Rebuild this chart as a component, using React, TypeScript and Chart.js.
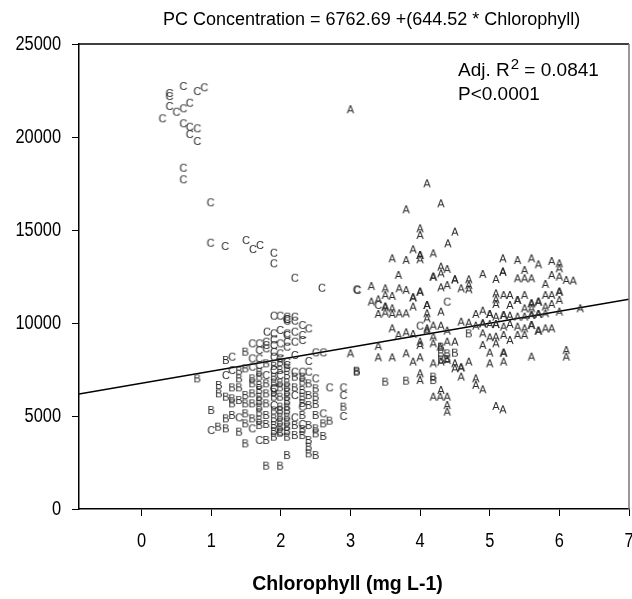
import React, { useEffect, useRef } from "react";
import { Chart, registerables } from "chart.js";
Chart.register(...registerables);

const titleText = "PC Concentration = 6762.69 +(644.52 * Chlorophyll)";
const xAxisTitle = "Chlorophyll (mg L-1)";
const xTicks = [0, 1, 2, 3, 4, 5, 6, 7];
const yTicks = [0, 5000, 10000, 15000, 20000, 25000];
const xRange = [-0.9, 7];
const yRange = [0, 25000];
const intercept = 6762.69;
const slope = 644.52;
const fitX = [-0.9, 7];

const groupC: [number, number][] = [
  [0.40, 22366], [0.40, 22204], [0.60, 22742], [0.80, 22473], [0.90, 22672], [0.40, 21667],
  [0.50, 21360], [0.60, 21543], [0.69, 21844], [0.30, 21005], [0.60, 20737], [0.69, 20554],
  [0.80, 20468], [0.69, 20161], [0.80, 19785], [0.60, 18349], [0.60, 17726], [0.99, 16489],
  [0.99, 14317], [1.20, 14140], [1.50, 14462], [1.60, 13978], [1.70, 14194], [1.90, 13780],
  [1.90, 13210], [2.20, 12435], [2.59, 11898], [3.09, 11812],
  [1.90, 10394], [1.99, 10394], [2.09, 10341], [2.09, 10215], [2.09, 10215], [2.09, 10125],
  [2.20, 10341], [2.20, 10125], [2.31, 9892], [2.40, 9713], [1.80, 9534], [1.90, 9444],
  [1.99, 9624], [2.09, 9444], [2.09, 9355], [2.20, 9534], [2.31, 9355], [1.90, 9122],
  [1.59, 8907], [1.69, 8907], [1.79, 8996], [1.79, 8817], [1.90, 8817], [1.99, 8907],
  [2.09, 8996], [2.20, 8996], [2.31, 9086], [1.69, 8548], [1.79, 8638], [1.90, 8459],
  [1.99, 8369], [2.09, 8728], [2.20, 8280], [2.50, 8423], [2.61, 8423], [1.30, 8190],
  [1.59, 8100], [1.69, 8100], [1.90, 8190], [1.99, 8100], [2.09, 7921], [2.40, 7957],
  [1.30, 7473], [1.59, 7652], [1.69, 7742], [1.90, 7473], [2.09, 7742], [2.31, 7384],
  [2.40, 7384], [1.21, 7204], [1.79, 7204], [1.99, 7204], [2.20, 7384], [2.50, 7025],
  [1.90, 6487], [1.90, 6487], [2.70, 6541], [2.90, 6541], [2.20, 6129], [2.90, 6129],
  [1.90, 5591], [2.31, 5502], [1.40, 4928], [2.20, 4928], [2.61, 5143], [2.90, 5000],
  [1.00, 4247], [1.59, 4337], [2.31, 4570], [1.69, 3710], [1.99, 4158],
  [3.10, 11774], [3.40, 10968], [4.39, 11147], [4.00, 9857],
];

const groupB: [number, number][] = [
  [1.49, 8459], [1.21, 8011], [1.49, 7563], [1.40, 7437], [1.79, 7832], [1.99, 7473],
  [2.20, 7115], [3.09, 7384], [3.09, 7437], [0.80, 7025], [1.40, 7025], [1.59, 7025],
  [1.69, 7115], [1.90, 7115], [2.09, 7204], [2.31, 7115], [1.11, 6667], [1.30, 6541],
  [1.40, 6541], [1.59, 6756], [1.69, 6667], [1.79, 6756], [1.99, 6541], [2.09, 6541],
  [2.20, 6541], [2.31, 6846], [2.40, 6756], [2.50, 6487], [1.11, 6219], [1.21, 6039],
  [1.30, 5950], [1.40, 5860], [1.49, 6129], [1.59, 6219], [1.69, 6039], [1.79, 6219],
  [1.90, 6039], [1.99, 6039], [2.09, 6039], [2.31, 6039], [2.40, 6129], [2.50, 6039],
  [1.00, 5323], [1.30, 5681], [1.49, 5681], [1.59, 5681], [1.69, 5502], [1.79, 5681],
  [1.99, 5502], [2.09, 5502], [2.40, 5591], [2.50, 5645], [2.90, 5502], [1.21, 4875],
  [1.30, 5054], [1.49, 5143], [1.59, 4875], [1.79, 5054], [1.90, 4875], [1.99, 4964],
  [2.09, 4964], [2.31, 5054], [2.50, 5054], [1.10, 4427], [1.21, 4337], [1.40, 4158],
  [1.49, 4606], [1.69, 4516], [1.79, 4570], [1.90, 4516], [1.99, 4695], [2.09, 4427],
  [2.20, 4516], [2.40, 4516], [2.61, 4606], [2.70, 4749], [2.50, 4337], [1.49, 3530],
  [1.79, 3710], [1.90, 3889], [2.09, 3889], [2.20, 3978], [2.31, 3978], [2.40, 3710],
  [2.50, 4068], [2.61, 3925], [2.40, 3351], [2.40, 2993], [2.50, 2903], [2.09, 2903],
  [1.79, 2330], [1.99, 2330],
  [1.69, 7380], [1.69, 6400], [1.69, 5800], [1.69, 5200], [1.69, 4800], [1.90, 7700],
  [1.90, 6800], [1.90, 6300], [1.90, 5300], [1.90, 4200], [2.09, 7600], [2.09, 6800],
  [2.09, 6300], [2.09, 5800], [2.09, 5300], [2.09, 4700], [2.09, 4200], [1.99, 7900],
  [1.99, 6800], [1.99, 5300], [1.99, 4400], [1.99, 4100], [2.31, 6400], [2.31, 5700],
  [2.31, 4300],
  [3.50, 6846], [3.80, 6900], [4.19, 6935], [4.19, 7115], [4.30, 8728], [4.30, 8369],
  [4.30, 8047], [4.39, 8369], [4.39, 8065], [4.50, 8405], [4.70, 9444],
];

const groupA: [number, number][] = [
  [3.00, 21489], [4.10, 17509], [3.80, 16111], [4.30, 16434], [4.00, 15090], [4.00, 14731],
  [4.50, 14910], [4.40, 14283], [3.90, 13961], [4.00, 13656], [4.00, 13656], [4.00, 13423],
  [4.19, 13746], [3.60, 13477], [3.80, 13387], [4.30, 13029], [4.39, 12903], [4.19, 12491],
  [4.19, 12491], [4.30, 12670], [3.69, 12581], [4.50, 12348], [4.50, 12348], [4.39, 12043],
  [4.30, 11918], [4.59, 11864], [4.70, 12348], [4.70, 12043], [4.70, 11810], [4.90, 12634],
  [5.09, 12366], [5.19, 13477], [5.19, 12760], [5.19, 12760], [5.40, 13387], [5.60, 13477],
  [5.70, 13154], [5.89, 13333], [6.00, 13208], [6.00, 12939], [5.50, 12849], [5.40, 12401],
  [5.50, 12401], [5.60, 12401], [5.89, 12581], [6.00, 12491], [6.10, 12312], [6.20, 12276],
  [5.80, 12097], [3.30, 11989], [3.50, 11864], [3.60, 11452], [3.70, 11864], [3.80, 11774],
  [3.90, 11380], [3.90, 11380], [4.00, 11685], [4.00, 11685], [3.50, 11505], [3.40, 11272],
  [3.30, 11147], [3.50, 10878], [3.50, 10878], [3.60, 10789], [3.40, 10484], [3.50, 10556],
  [3.60, 10484], [3.70, 10520], [3.80, 10520], [3.90, 10878], [4.10, 10968], [4.10, 10968],
  [4.10, 10520], [4.10, 10251], [4.30, 10609], [5.09, 11595], [5.09, 11272], [5.09, 11022],
  [5.20, 11505], [5.29, 11505], [5.40, 11237], [5.40, 11237], [5.50, 11505], [5.60, 11057],
  [5.60, 11057], [5.70, 11147], [5.70, 11147], [5.80, 11505], [5.89, 11505], [6.00, 11685],
  [6.00, 11685], [6.00, 11237], [5.29, 10968], [5.50, 10789], [5.60, 10789], [5.80, 10878],
  [5.89, 11022], [6.00, 10609], [6.30, 10789], [4.80, 10484], [4.90, 10663], [5.00, 10484],
  [5.00, 10484], [5.09, 10341], [5.20, 10430], [5.20, 10430], [5.29, 10394], [5.40, 10341],
  [5.50, 10341], [5.60, 10430], [5.60, 10430], [5.70, 10484], [5.70, 10484], [5.80, 10520],
  [3.60, 9713], [4.10, 9713], [4.19, 9857], [4.30, 9857], [4.39, 9588], [4.59, 10072],
  [4.70, 10018], [4.80, 9857], [4.90, 9982], [4.90, 9982], [5.00, 9946], [5.09, 9946],
  [5.09, 9946], [5.20, 9803], [5.29, 9946], [5.40, 9803], [5.50, 9713], [5.60, 9892],
  [5.60, 9892], [5.70, 9588], [5.70, 9588], [5.80, 9713], [5.89, 9713], [3.69, 9355],
  [3.80, 9498], [3.90, 9409], [4.10, 9588], [4.19, 9265], [4.39, 8996], [4.50, 8996],
  [4.90, 9444], [5.00, 9229], [5.09, 9265], [5.20, 9355], [5.29, 9086], [5.40, 9355],
  [5.50, 9355], [3.40, 8763], [4.00, 8996], [4.00, 8817], [4.19, 8907], [4.29, 8728],
  [4.90, 8817], [5.09, 8907], [3.00, 8369], [3.40, 8154], [3.60, 8154], [3.80, 8369],
  [3.90, 7921], [4.00, 8154], [4.19, 7832], [4.30, 7921], [4.39, 8011], [4.50, 7832],
  [4.70, 7921], [5.00, 8405], [5.00, 7832], [5.20, 8405], [5.20, 8405], [5.20, 7921],
  [5.60, 8190], [6.10, 8548], [6.10, 8190], [4.50, 7563], [4.59, 7617], [4.59, 7617],
  [4.59, 7115], [4.80, 7025], [4.80, 6667], [4.90, 6434], [4.00, 7294], [4.00, 6935],
  [4.19, 6039], [4.29, 6039], [4.39, 6039], [4.30, 6398], [4.39, 5591], [4.39, 5233],
  [5.09, 5538], [5.19, 5358],
];

const FONT = '"Liberation Sans", Arial, Helvetica, sans-serif';

function letterImage(ch: string) {
  const c = document.createElement("canvas");
  c.width = 12;
  c.height = 12;
  const g = c.getContext("2d")!;
  g.fillStyle = "#2a2a2a";
  g.font = `11px ${FONT}`;
  g.textAlign = "center";
  g.textBaseline = "middle";
  g.fillText(ch, 6, 6.5);
  return c;
}

const toPoints = (arr: [number, number][]) => arr.map(([x, y]) => ({ x, y }));

function narrowText(ctx: CanvasRenderingContext2D, text: string, x: number, y: number, align: CanvasTextAlign, baseline: CanvasTextBaseline) {
  ctx.save();
  ctx.translate(x, y);
  ctx.scale(0.82, 1);
  ctx.textAlign = align;
  ctx.textBaseline = baseline;
  ctx.fillText(text, 0, 0);
  ctx.restore();
}

const decorPlugin = {
  id: "decor",
  afterDraw(chart: any) {
    const ctx = chart.ctx as CanvasRenderingContext2D;
    const { left, right, top, bottom } = chart.chartArea;
    const xs = chart.scales.x;
    const ys = chart.scales.y;
    ctx.save();
    ctx.lineWidth = 1.5;
    ctx.strokeStyle = "#000";
    ctx.beginPath();
    ctx.moveTo(left, top);
    ctx.lineTo(right, top);
    ctx.stroke();
    ctx.strokeStyle = "#777";
    ctx.beginPath();
    ctx.moveTo(right, top);
    ctx.lineTo(right, bottom);
    ctx.stroke();

    ctx.fillStyle = "#000";
    ctx.font = `20px ${FONT}`;
    yTicks.forEach((v) => narrowText(ctx, String(v), left - 18, ys.getPixelForValue(v), "right", "middle"));
    xTicks.forEach((v) => narrowText(ctx, String(v), xs.getPixelForValue(v), bottom + 38, "center", "alphabetic"));

    ctx.textBaseline = "alphabetic";
    ctx.textAlign = "left";
    ctx.font = `18px ${FONT}`;
    ctx.fillText(titleText, 163, 25);

    const ax = 458;
    ctx.font = `19px ${FONT}`;
    ctx.fillText("Adj. R", ax, 76);
    const w = ctx.measureText("Adj. R").width;
    ctx.font = `15px ${FONT}`;
    ctx.fillText("2", ax + w + 1, 69);
    const w2 = ctx.measureText("2").width;
    ctx.font = `19px ${FONT}`;
    ctx.fillText(" = 0.0841", ax + w + w2 + 1, 76);
    ctx.fillText("P<0.0001", ax, 100);

    ctx.font = `bold 19.5px ${FONT}`;
    ctx.textAlign = "center";
    ctx.fillText(xAxisTitle, (left + right) / 2 - 6.5, 590);
    ctx.restore();
  },
};

export default function App() {
  const ref = useRef<HTMLCanvasElement>(null);
  useEffect(() => {
    if (!ref.current) return;
    Chart.defaults.font.family = FONT;
    const chart = new Chart(ref.current, {
      type: "scatter",
      data: {
        datasets: [
          { label: "A", data: toPoints(groupA), pointStyle: letterImage("A") as any, pointRadius: 6 },
          { label: "B", data: toPoints(groupB), pointStyle: letterImage("B") as any, pointRadius: 6 },
          { label: "C", data: toPoints(groupC), pointStyle: letterImage("C") as any, pointRadius: 6 },
          {
            type: "line" as any,
            label: "fit",
            data: fitX.map((x) => ({ x, y: intercept + slope * x })),
            borderColor: "#000",
            borderWidth: 1.5,
            pointRadius: 0,
            showLine: true,
            fill: false,
          } as any,
        ],
      },
      options: {
        responsive: false,
        animation: false,
        layout: { autoPadding: false, padding: { left: 0, right: 3, top: 44, bottom: 0 } },
        plugins: { legend: { display: false }, tooltip: { enabled: false }, title: { display: false } },
        scales: {
          x: {
            type: "linear",
            min: xRange[0],
            max: xRange[1],
            afterBuildTicks: (scale: any) => {
              scale.ticks = xTicks.map((v) => ({ value: v }));
            },
            afterFit: (scale: any) => {
              scale.height = 90;
            },
            grid: { display: true, drawOnChartArea: false, drawTicks: true, tickLength: 7, color: "#000" },
            border: { display: true, color: "#000", width: 1.5 },
            ticks: { display: false },
          },
          y: {
            type: "linear",
            min: yRange[0],
            max: yRange[1],
            afterBuildTicks: (scale: any) => {
              scale.ticks = yTicks.map((v) => ({ value: v }));
            },
            afterFit: (scale: any) => {
              scale.width = 79;
            },
            grid: { display: true, drawOnChartArea: false, drawTicks: true, tickLength: 7, color: "#000" },
            border: { display: true, color: "#000", width: 1.5 },
            ticks: { display: false },
          },
        },
      },
      plugins: [decorPlugin],
    });
    return () => chart.destroy();
  }, []);
  return (
    <div style={{ position: "absolute", left: 0, top: 0, width: 632, height: 599 }}>
      <canvas ref={ref} width={632} height={599} />
    </div>
  );
}
